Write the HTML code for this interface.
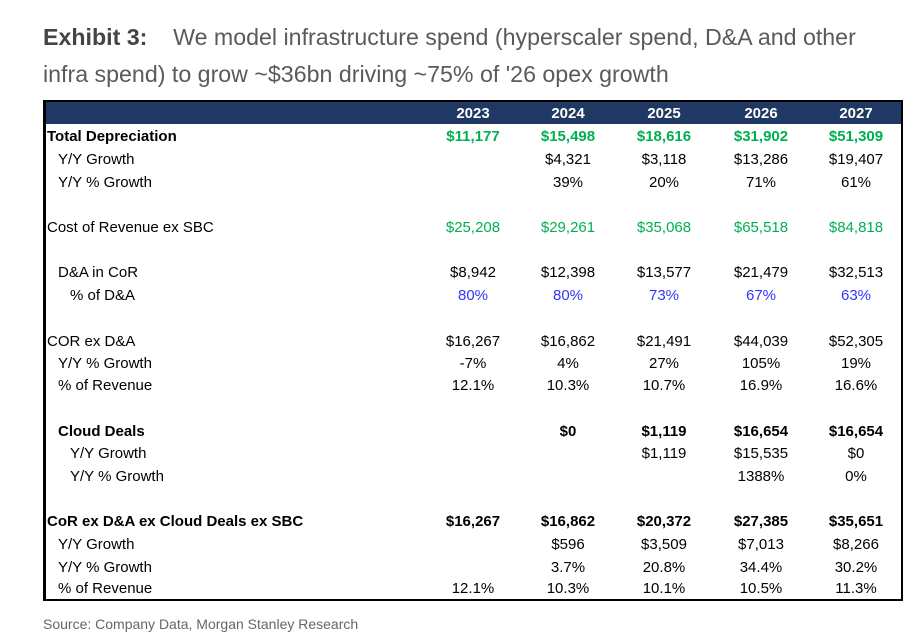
<!DOCTYPE html>
<html><head><meta charset="utf-8"><style>
body{margin:0;width:924px;height:634px;background:#fff;position:relative;overflow:hidden;font-family:"Liberation Sans",sans-serif}
.t{position:absolute;left:43px;font-size:23.2px;color:#5a5a5a;white-space:nowrap}
.t b{color:#444}
.frame{position:absolute;left:43px;top:100px;width:855px;height:497px;border:2px solid #000;border-left-width:3px}
.hdr{position:absolute;left:46px;top:102px;width:855px;height:22px;background:#203864}
.r{position:absolute;left:0;width:924px;height:18px;line-height:18px;font-size:15px;color:#000;margin-top:2px}
.r span{position:absolute;white-space:nowrap}
.r .v{width:100px;text-align:center}
.b{font-weight:bold}
.g{color:#00b050}.bl{color:#3333ff}.w{color:#fff;font-weight:bold}
.src{position:absolute;left:43px;top:616px;font-size:14px;color:#666}
</style></head><body>
<div class="t" style="top:24px"><b>Exhibit 3:</b>&nbsp;&nbsp;&nbsp;&nbsp;We model infrastructure spend (hyperscaler spend, D&amp;A and other</div>
<div class="t" style="top:61px">infra spend) to grow ~$36bn driving ~75% of '26 opex growth</div>
<div class="hdr"></div>
<div class="frame"></div>

<div class="r w" style="top:103px"><span class="v" style="left:423px">2023</span><span class="v" style="left:518px">2024</span><span class="v" style="left:614px">2025</span><span class="v" style="left:711px">2026</span><span class="v" style="left:806px">2027</span></div>

<div class="r b" style="top:126px"><span style="left:47px">Total Depreciation</span><span class="v g" style="left:423px">$11,177</span><span class="v g" style="left:518px">$15,498</span><span class="v g" style="left:614px">$18,616</span><span class="v g" style="left:711px">$31,902</span><span class="v g" style="left:806px">$51,309</span></div>
<div class="r" style="top:149px"><span style="left:58px">Y/Y Growth</span><span class="v" style="left:518px">$4,321</span><span class="v" style="left:614px">$3,118</span><span class="v" style="left:711px">$13,286</span><span class="v" style="left:806px">$19,407</span></div>
<div class="r" style="top:172px"><span style="left:58px">Y/Y % Growth</span><span class="v" style="left:518px">39%</span><span class="v" style="left:614px">20%</span><span class="v" style="left:711px">71%</span><span class="v" style="left:806px">61%</span></div>

<div class="r" style="top:217px"><span style="left:47px">Cost of Revenue ex SBC</span><span class="v g" style="left:423px">$25,208</span><span class="v g" style="left:518px">$29,261</span><span class="v g" style="left:614px">$35,068</span><span class="v g" style="left:711px">$65,518</span><span class="v g" style="left:806px">$84,818</span></div>

<div class="r" style="top:262px"><span style="left:58px">D&amp;A in CoR</span><span class="v" style="left:423px">$8,942</span><span class="v" style="left:518px">$12,398</span><span class="v" style="left:614px">$13,577</span><span class="v" style="left:711px">$21,479</span><span class="v" style="left:806px">$32,513</span></div>
<div class="r" style="top:285px"><span style="left:70px">% of D&amp;A</span><span class="v bl" style="left:423px">80%</span><span class="v bl" style="left:518px">80%</span><span class="v bl" style="left:614px">73%</span><span class="v bl" style="left:711px">67%</span><span class="v bl" style="left:806px">63%</span></div>

<div class="r" style="top:331px"><span style="left:47px">COR ex D&amp;A</span><span class="v" style="left:423px">$16,267</span><span class="v" style="left:518px">$16,862</span><span class="v" style="left:614px">$21,491</span><span class="v" style="left:711px">$44,039</span><span class="v" style="left:806px">$52,305</span></div>
<div class="r" style="top:353px"><span style="left:58px">Y/Y % Growth</span><span class="v" style="left:423px">-7%</span><span class="v" style="left:518px">4%</span><span class="v" style="left:614px">27%</span><span class="v" style="left:711px">105%</span><span class="v" style="left:806px">19%</span></div>
<div class="r" style="top:375px"><span style="left:58px">% of Revenue</span><span class="v" style="left:423px">12.1%</span><span class="v" style="left:518px">10.3%</span><span class="v" style="left:614px">10.7%</span><span class="v" style="left:711px">16.9%</span><span class="v" style="left:806px">16.6%</span></div>

<div class="r b" style="top:421px"><span style="left:58px">Cloud Deals</span><span class="v" style="left:518px">$0</span><span class="v" style="left:614px">$1,119</span><span class="v" style="left:711px">$16,654</span><span class="v" style="left:806px">$16,654</span></div>
<div class="r" style="top:443px"><span style="left:70px">Y/Y Growth</span><span class="v" style="left:614px">$1,119</span><span class="v" style="left:711px">$15,535</span><span class="v" style="left:806px">$0</span></div>
<div class="r" style="top:466px"><span style="left:70px">Y/Y % Growth</span><span class="v" style="left:711px">1388%</span><span class="v" style="left:806px">0%</span></div>

<div class="r b" style="top:511px"><span style="left:47px">CoR ex D&amp;A ex Cloud Deals ex SBC</span><span class="v" style="left:423px">$16,267</span><span class="v" style="left:518px">$16,862</span><span class="v" style="left:614px">$20,372</span><span class="v" style="left:711px">$27,385</span><span class="v" style="left:806px">$35,651</span></div>
<div class="r" style="top:534px"><span style="left:58px">Y/Y Growth</span><span class="v" style="left:518px">$596</span><span class="v" style="left:614px">$3,509</span><span class="v" style="left:711px">$7,013</span><span class="v" style="left:806px">$8,266</span></div>
<div class="r" style="top:557px"><span style="left:58px">Y/Y % Growth</span><span class="v" style="left:518px">3.7%</span><span class="v" style="left:614px">20.8%</span><span class="v" style="left:711px">34.4%</span><span class="v" style="left:806px">30.2%</span></div>
<div class="r" style="top:578px"><span style="left:58px">% of Revenue</span><span class="v" style="left:423px">12.1%</span><span class="v" style="left:518px">10.3%</span><span class="v" style="left:614px">10.1%</span><span class="v" style="left:711px">10.5%</span><span class="v" style="left:806px">11.3%</span></div>

<div class="src">Source: Company Data, Morgan Stanley Research</div>
</body></html>
